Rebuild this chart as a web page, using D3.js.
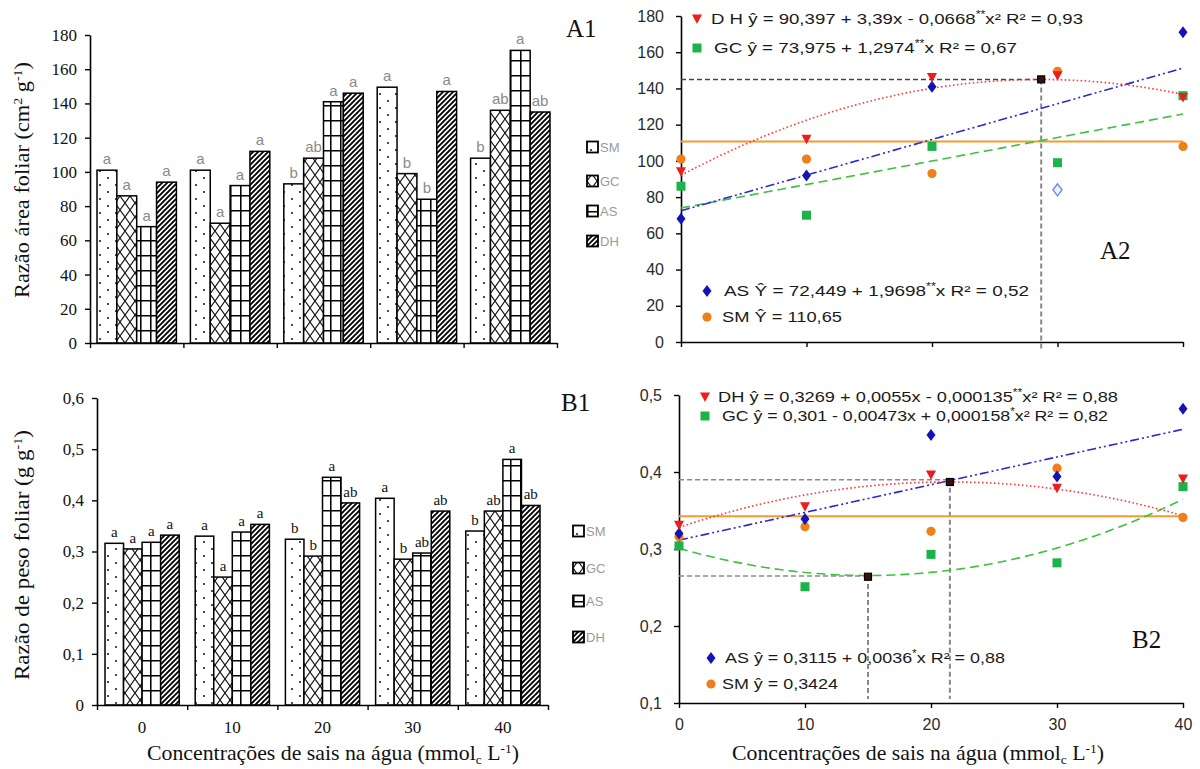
<!DOCTYPE html>
<html>
<head>
<meta charset="utf-8">
<script src="https://cdn.jsdelivr.net/npm/d3@7"></script>
<style>
  body { margin: 0; background: #fff; }
</style>
</head>
<body>
<div id="chart"></div>
<script>
// categories
const groups = ["0", "10", "20", "30", "40"];
const concentrations = [0, 10, 20, 30, 40];
const series = ["SM", "GC", "AS", "DH"];

// A1 / A2 : razão área foliar (cm2 g-1)
const areaSM = [101, 101, 93, 149.5, 108];
const areaGC = [86, 70, 108, 99, 136];
const areaAS = [68, 92, 141, 84, 171];
const areaDH = [94, 112, 146, 147, 135];
const areaLetters = [["a", "a", "a", "a"], ["a", "a", "a", "a"], ["b", "ab", "a", "a"], ["a", "b", "b", "a"], ["b", "ab", "a", "ab"]];
const areaASExcluded = [false, false, false, true, false];

// B1 : razão de peso foliar (g g-1)
const pesoSM = [0.316, 0.330, 0.324, 0.404, 0.340];
const pesoGC = [0.305, 0.250, 0.291, 0.285, 0.379];
const pesoAS = [0.318, 0.338, 0.445, 0.297, 0.480];
const pesoDH = [0.332, 0.353, 0.395, 0.379, 0.390];
const pesoLetters = [["a", "a", "a", "a"], ["a", "a", "a", "a"], ["b", "b", "a", "ab"], ["a", "b", "ab", "ab"], ["b", "ab", "a", "ab"]];

// B2 points
const b2SM = [0.316, 0.329, 0.323, 0.405, 0.341];
const b2GC = [0.304, 0.251, 0.293, 0.282, 0.381];
const b2AS = [0.320, 0.339, 0.448, 0.394, 0.482];
const b2DH = [0.331, 0.355, 0.396, 0.379, 0.391];

// fitted curves (polynomial coefficients c0 + c1 x + c2 x^2) as drawn
const a2Fits = { DH: [92, 3.69, -0.0643], GC: [73.975, 1.2974], AS: [72.449, 1.9698], SM: [110.65] };
const b2Fits = { DH: [0.328, 0.0055, -0.000128], GC: [0.301, -0.00473, 0.000158], AS: [0.3115, 0.0036], SM: [0.3424] };

// extreme points of the quadratic fits
const a2Extremes = [{ x: 28.7, y: 145 }];
const b2Extremes = [{ x: 21.5, y: 0.387, ref: 0.39 }, { x: 15, y: 0.264, ref: 0.265 }];

const a2Equations = {
  DH: ["D H ŷ = 90,397 + 3,39x - 0,0668", "**", "x² R² = 0,93"],
  GC: ["GC ŷ = 73,975 + 1,2974", "**", "x R² = 0,67"],
  AS: ["AS Ŷ = 72,449 + 1,9698", "**", "x R² = 0,52"],
  SM: ["SM Ŷ = 110,65", "", ""]
};
const b2Equations = {
  DH: ["DH ŷ =  0,3269 + 0,0055x - 0,000135", "**", "x²  R² = 0,88"],
  GC: ["GC ŷ = 0,301 - 0,00473x + 0,000158", "*", "x² R² = 0,82"],
  AS: ["AS ŷ = 0,3115 + 0,0036", "*", "x R² = 0,88"],
  SM: ["SM ŷ = 0,3424", "", ""]
};

const serif = "Liberation Serif, Times New Roman, serif";
const sans = "Liberation Sans, Arial, sans-serif";
const colors = { SM: "#ef7f1a", GC: "#1bb34a", AS: "#1414b4", DH: "#ee1c1c" };
const lineColors = { SM: "#f59a2c", GC: "#3cc23c", AS: "#2a2ad0", DH: "#ff3a3a" };
const dashes = { SM: null, GC: "9,5", AS: "9,3,2,3,2,3", DH: "1.6,2.4" };

const svg = d3.select("#chart").append("svg")
  .attr("width", 1200)
  .attr("height", 769)
  .style("background", "#fff");

// bar fill patterns
const defs = svg.append("defs");
function pattern(id, w, h, draw) {
  const p = defs.append("pattern").attr("id", id)
    .attr("patternUnits", "userSpaceOnUse").attr("width", w).attr("height", h);
  p.append("rect").attr("width", w).attr("height", h).attr("fill", "#fff");
  draw(p);
}
pattern("pat-SM", 16, 14, p => {
  p.append("circle").attr("cx", 4).attr("cy", 3).attr("r", 1.1).attr("fill", "#222");
  p.append("circle").attr("cx", 12).attr("cy", 10).attr("r", 1.1).attr("fill", "#222");
});
pattern("pat-GC", 10, 14, p => {
  p.append("path").attr("d", "M0,0L10,14M10,0L0,14").attr("stroke", "#111").attr("stroke-width", 1.1);
});
pattern("pat-AS", 10, 15, p => {
  p.append("path").attr("d", "M0,0.75H10M0.75,0V15").attr("stroke", "#000").attr("stroke-width", 1.6);
});
pattern("pat-DH", 5, 5, p => {
  p.append("path").attr("d", "M-1,1L1,-1M0,5L5,0M4,6L6,4").attr("stroke", "#000").attr("stroke-width", 1.9);
});

function styleAxis(g, family, size, color) {
  g.selectAll("path.domain").attr("stroke", "#000").attr("stroke-width", 1.6);
  g.selectAll(".tick line").attr("stroke", "#000").attr("stroke-width", 1.4);
  g.selectAll("text").attr("font-family", family).attr("font-size", size).attr("fill", color);
}

function barPanel(o) {
  const g = svg.append("g");
  const x = d3.scaleBand().domain(groups).range([o.left, o.right]);
  const xs = d3.scaleBand().domain(series).range([o.pad, x.bandwidth() - o.pad]);
  const y = d3.scaleLinear().domain([0, o.yMax]).range([o.bottom, o.top]);

  const rows = [];
  groups.forEach((gk, i) => series.forEach((s, j) => {
    rows.push({ g: gk, s: s, v: o.values[j][i], l: o.letters[i][j] });
  }));

  g.selectAll("rect.bar").data(rows).join("rect")
    .attr("class", "bar")
    .attr("x", d => x(d.g) + xs(d.s))
    .attr("width", xs.bandwidth())
    .attr("y", d => y(d.v))
    .attr("height", d => o.bottom - y(d.v))
    .attr("fill", d => `url(#pat-${d.s})`)
    .attr("stroke", "#000")
    .attr("stroke-width", 1.5);

  g.selectAll("text.letter").data(rows).join("text")
    .attr("class", "letter")
    .attr("x", d => x(d.g) + xs(d.s) + xs.bandwidth() / 2)
    .attr("y", d => y(d.v) - 6)
    .attr("text-anchor", "middle")
    .attr("font-family", o.letterFont)
    .attr("font-size", 15)
    .attr("fill", o.letterColor)
    .text(d => d.l);

  const yAxis = g.append("g")
    .attr("transform", `translate(${o.left},0)`)
    .call(d3.axisLeft(y).tickValues(o.ticks).tickSize(5).tickSizeOuter(0).tickPadding(8).tickFormat(o.fmt));
  styleAxis(yAxis, serif, 17, "#111");

  const xb = d3.scaleLinear().domain([0, groups.length]).range([o.left, o.right]);
  const xAxis = g.append("g")
    .attr("transform", `translate(0,${o.bottom})`)
    .call(d3.axisBottom(xb).tickValues(d3.range(groups.length + 1)).tickSize(5).tickSizeOuter(0).tickFormat(""));
  styleAxis(xAxis, serif, 17, "#111");

  if (o.xLabels) {
    g.selectAll("text.xl").data(groups).join("text")
      .attr("class", "xl")
      .attr("x", d => x(d) + x.bandwidth() / 2)
      .attr("y", o.bottom + 28)
      .attr("text-anchor", "middle")
      .attr("font-family", serif)
      .attr("font-size", 17)
      .attr("fill", "#111")
      .text(d => d);
  }

  // legend
  const lg = g.selectAll("g.leg").data(series).join("g")
    .attr("class", "leg")
    .attr("transform", (d, i) => `translate(${o.legendX},${o.legendY[i]})`);
  lg.append("rect").attr("x", 0).attr("y", -5.5).attr("width", 11).attr("height", 11)
    .attr("fill", d => `url(#pat-${d})`).attr("stroke", "#000").attr("stroke-width", 1.8);
  lg.append("text").attr("x", 13).attr("y", 5)
    .attr("font-family", sans).attr("font-size", 13).attr("fill", "#9a9a9a")
    .text(d => d);

  svg.append("text").attr("x", o.tagX).attr("y", o.tagY)
    .attr("font-family", serif).attr("font-size", 25).attr("fill", "#111").text(o.tag);

  const t = svg.append("text")
    .attr("transform", `translate(${o.titleX},${o.titleY}) rotate(-90)`)
    .attr("text-anchor", "middle")
    .attr("font-family", serif).attr("font-size", 21).attr("fill", "#111")
    .attr("textLength", o.titleLen).attr("lengthAdjust", "spacingAndGlyphs");
  o.title.forEach(part => {
    const ts = t.append("tspan").text(part.t);
    if (part.sup) ts.attr("font-size", 13).attr("dy", part.dy);
    else if (part.dy) ts.attr("dy", part.dy);
  });
}

function marker(g, type, cx, cy, fill, stroke) {
  if (type === "DH") {
    g.append("path").attr("d", `M${cx - 5},${cy - 4.5}L${cx + 5},${cy - 4.5}L${cx},${cy + 5}Z`).attr("fill", fill);
  } else if (type === "GC") {
    g.append("rect").attr("x", cx - 4.5).attr("y", cy - 4.5).attr("width", 9).attr("height", 9).attr("fill", fill);
  } else if (type === "AS") {
    g.append("path").attr("d", `M${cx},${cy - 6}L${cx + 4.5},${cy}L${cx},${cy + 6}L${cx - 4.5},${cy}Z`)
      .attr("fill", fill).attr("stroke", stroke || "none").attr("stroke-width", 1.5);
  } else {
    g.append("circle").attr("cx", cx).attr("cy", cy).attr("r", 4.6).attr("fill", fill);
  }
}

function scatterPanel(o) {
  const g = svg.append("g");
  const x = d3.scaleLinear().domain([0, 40]).range([o.left, o.right]);
  const y = d3.scaleLinear().domain(o.yDomain).range([o.bottom, o.top]);

  const yAxis = g.append("g")
    .attr("transform", `translate(${o.left},0)`)
    .call(d3.axisLeft(y).tickValues(o.ticks).tickSize(5).tickSizeOuter(0).tickPadding(12).tickFormat(o.fmt));
  styleAxis(yAxis, sans, 16, "#2a2a2a");
  const xAxis = g.append("g")
    .attr("transform", `translate(0,${o.bottom})`)
    .call(d3.axisBottom(x).tickValues(concentrations).tickSize(5).tickSizeOuter(0).tickPadding(11)
      .tickFormat(o.xLabels ? d => d : ""));
  styleAxis(xAxis, sans, 16, "#2a2a2a");

  // reference lines to the extremes
  o.extremes.forEach(e => {
    const ry = e.ref !== undefined ? e.ref : e.y;
    g.append("line").attr("x1", x(0)).attr("x2", x(e.x)).attr("y1", y(ry)).attr("y2", y(ry))
      .attr("stroke", o.hColor).attr("stroke-width", 1.5).attr("stroke-dasharray", "5,3");
    g.append("line").attr("x1", x(e.x)).attr("x2", x(e.x)).attr("y1", y(ry)).attr("y2", o.bottom + o.vExtra)
      .attr("stroke", "#8a8a8a").attr("stroke-width", 2).attr("stroke-dasharray", "5,3");
  });

  // fitted curves
  const xsamp = d3.range(0, 40.001, 0.5);
  const line = d3.line().x(d => x(d[0])).y(d => y(d[1]));
  ["SM", "GC", "AS", "DH"].forEach(s => {
    const c = o.fits[s];
    const pts = xsamp.map(v => [v, c.reduce((acc, k, i) => acc + k * Math.pow(v, i), 0)]);
    const p = g.append("path").attr("d", line(pts)).attr("fill", "none")
      .attr("stroke", lineColors[s]).attr("stroke-width", s === "SM" ? 2 : 1.6);
    if (dashes[s]) p.attr("stroke-dasharray", dashes[s]);
  });

  // observed points
  ["SM", "GC", "AS", "DH"].forEach(s => {
    o.points[s].forEach((v, i) => {
      const open = s === "AS" && o.open && o.open[i];
      marker(g, s, x(concentrations[i]), y(v), open ? "#eef2ff" : colors[s], open ? "#6f8cf0" : null);
    });
  });

  o.extremes.forEach(e => {
    g.append("rect").attr("x", x(e.x) - 3.5).attr("y", y(e.y) - 3.5).attr("width", 7).attr("height", 7)
      .attr("fill", "#3a1010").attr("stroke", "#000").attr("stroke-width", 1.2);
  });

  // equations
  o.eq.forEach(r => {
    marker(g, r.s, r.mx, r.y - 5, colors[r.s]);
    const t = g.append("text").attr("x", r.tx).attr("y", r.y)
      .attr("font-family", sans).attr("font-size", 15).attr("fill", "#1a1a1a")
      .attr("textLength", r.w).attr("lengthAdjust", "spacingAndGlyphs");
    const parts = o.equations[r.s];
    t.append("tspan").text(parts[0]);
    if (parts[1]) {
      t.append("tspan").attr("font-size", 10).attr("dy", -6).text(parts[1]);
      t.append("tspan").attr("dy", 6).text(parts[2]);
    }
  });

  svg.append("text").attr("x", o.tagX).attr("y", o.tagY)
    .attr("font-family", serif).attr("font-size", 25).attr("fill", "#111").text(o.tag);
}

// A1
barPanel({
  left: 90, right: 557, top: 35, bottom: 343, pad: 7, yMax: 180,
  values: [areaSM, areaGC, areaAS, areaDH], letters: areaLetters,
  ticks: d3.range(0, 181, 20), fmt: d => d,
  letterColor: "#8a8a8a", letterFont: sans, xLabels: false,
  legendX: 587, legendY: [147, 181, 211, 241],
  tag: "A1", tagX: 566, tagY: 37,
  titleX: 29, titleY: 180, titleLen: 236,
  title: [{ t: "Razão área foliar (cm" }, { t: "2", sup: true, dy: -7 }, { t: " g", dy: 7 }, { t: "-1", sup: true, dy: -7 }, { t: ")", dy: 7 }]
});

// B1
barPanel({
  left: 97, right: 548, top: 398, bottom: 705, pad: 8, yMax: 0.6,
  values: [pesoSM, pesoGC, pesoAS, pesoDH], letters: pesoLetters,
  ticks: d3.range(0, 0.61, 0.1), fmt: d => d === 0 ? "0" : d3.format(".1f")(d).replace(".", ","),
  letterColor: "#111", letterFont: serif, xLabels: true,
  legendX: 573, legendY: [531, 568, 601, 637],
  tag: "B1", tagX: 561, tagY: 411,
  titleX: 29, titleY: 555, titleLen: 250,
  title: [{ t: "Razão de peso foliar (g g" }, { t: "-1", sup: true, dy: -7 }, { t: ")", dy: 7 }]
});

// A2
scatterPanel({
  left: 681, right: 1183, top: 16, bottom: 342, yDomain: [0, 180],
  ticks: d3.range(0, 181, 20), fmt: d => d, xLabels: false,
  points: { SM: areaSM, GC: areaGC, AS: areaAS, DH: areaDH }, open: areaASExcluded,
  fits: a2Fits, extremes: a2Extremes, hColor: "#444", vExtra: 8,
  equations: a2Equations,
  eq: [
    { s: "DH", mx: 697, tx: 711, y: 24, w: 372 },
    { s: "GC", mx: 697, tx: 714, y: 53, w: 303 },
    { s: "AS", mx: 707, tx: 724, y: 296, w: 305 },
    { s: "SM", mx: 707, tx: 722, y: 322, w: 120 }
  ],
  tag: "A2", tagX: 1100, tagY: 259
});

// B2
scatterPanel({
  left: 679, right: 1183, top: 395, bottom: 703, yDomain: [0.1, 0.5],
  ticks: d3.range(0.1, 0.51, 0.1), fmt: d => d3.format(".1f")(d).replace(".", ","), xLabels: true,
  points: { SM: b2SM, GC: b2GC, AS: b2AS, DH: b2DH },
  fits: b2Fits, extremes: b2Extremes, hColor: "#8a8a8a", vExtra: -4,
  equations: b2Equations,
  eq: [
    { s: "DH", mx: 705, tx: 718, y: 402, w: 400 },
    { s: "GC", mx: 705, tx: 722, y: 421, w: 386 },
    { s: "AS", mx: 711, tx: 725, y: 663, w: 280 },
    { s: "SM", mx: 711, tx: 722, y: 689, w: 116 }
  ],
  tag: "B2", tagX: 1132, tagY: 648
});

// x titles
[333, 918].forEach(cx => {
  const t = svg.append("text").attr("x", cx).attr("y", 760).attr("text-anchor", "middle")
    .attr("font-family", serif).attr("font-size", 21).attr("fill", "#111")
    .attr("textLength", 372).attr("lengthAdjust", "spacingAndGlyphs");
  t.append("tspan").text("Concentrações de sais na água (mmol");
  t.append("tspan").attr("font-size", 13).attr("dy", 4).text("c");
  t.append("tspan").attr("dy", -4).text(" L");
  t.append("tspan").attr("font-size", 13).attr("dy", -7).text("-1");
  t.append("tspan").attr("dy", 7).text(")");
});
</script>
</body>
</html>
